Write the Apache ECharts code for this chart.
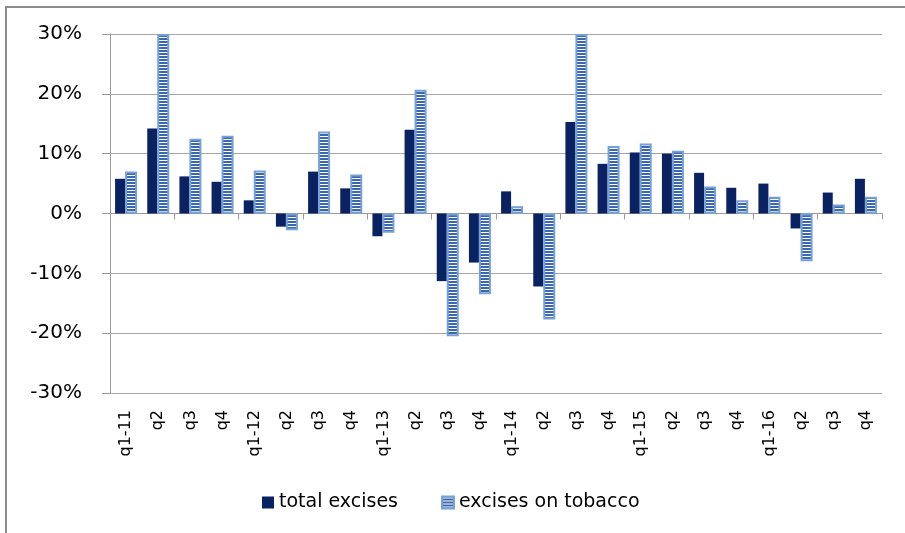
<!DOCTYPE html>
<html>
<head>
<meta charset="utf-8">
<script src="https://cdn.jsdelivr.net/npm/echarts@6/dist/echarts.min.js"></script>
<style>
  html, body { margin: 0; padding: 0; background: #fff; }
  #chart { width: 905px; height: 533px; }
</style>
</head>
<body>
<div id="chart"></div>
<script>
// quarters, 2011-2016
const quarters = ['q1-11', 'q2', 'q3', 'q4', 'q1-12', 'q2', 'q3', 'q4',
  'q1-13', 'q2', 'q3', 'q4', 'q1-14', 'q2', 'q3', 'q4',
  'q1-15', 'q2', 'q3', 'q4', 'q1-16', 'q2', 'q3', 'q4']

// y/y change, %
const totalExcises = [5.8, 14.2, 6.2, 5.3, 2.2, -2.2, 7.0, 4.2,
  -3.8, 14.0, -11.3, -8.2, 3.7, -12.2, 15.3, 8.3,
  10.2, 10.0, 6.8, 4.3, 5.0, -2.5, 3.5, 5.8]
const tobaccoExcises = [7.0, 30, 12.5, 13.0, 7.2, -2.8, 13.7, 6.5,
  -3.2, 20.7, -20.5, -13.5, 1.2, -17.7, 30, 11.3,
  11.7, 10.5, 4.5, 2.2, 2.8, -8.0, 1.5, 2.8]

const yTicks = [-30, -20, -10, 0, 10, 20, 30]

// striped fill for the tobacco bars
function stripes () {
	let c = document.createElement('canvas')
	c.width = 4
	c.height = 3
	let ctx = c.getContext('2d')
	ctx.fillStyle = '#3a68ae'
	ctx.fillRect(0, 0, 4, 3)
	ctx.fillStyle = '#ffffff'
	ctx.fillRect(0, 1, 4, 1)
	return c
}

const font = 'DejaVu Sans, Verdana, sans-serif'
const legendText = { fontFamily: font, fontSize: 19, color: '#000' }
let myChart = echarts.init(document.getElementById('chart'))

myChart.setOption({
	animation: false,
	grid: { left: 110, right: 23, top: 34, bottom: 140, containLabel: false },
	legend: [{
		top: 488,
		left: 257,
		itemWidth: 12,
		itemHeight: 12,
		icon: 'rect',
		textStyle: legendText,
		data: ['total excises']
	}, {
		top: 488,
		left: 436,
		itemWidth: 12,
		itemHeight: 12,
		icon: 'rect',
		textStyle: legendText,
		data: ['excises on tobacco']
	}],
	xAxis: [{
		type: 'category',
		data: quarters,
		axisLine: { onZero: true, lineStyle: { color: '#9a9a9a', width: 1 } },
		axisTick: { show: true, inside: false, length: 6, lineStyle: { color: '#9a9a9a' } },
		axisLabel: { show: false },
		splitLine: { show: false }
	}, {
		type: 'category',
		data: quarters,
		position: 'bottom',
		axisLine: { show: false, onZero: false },
		axisTick: { show: false },
		axisLabel: {
			rotate: 90,
			margin: 17,
			interval: 0,
			fontFamily: font,
			fontSize: 16,
			color: '#000'
		}
	}],
	yAxis: {
		type: 'value',
		min: -30,
		max: 30,
		interval: 10,
		axisLine: { show: true, lineStyle: { color: '#9a9a9a' } },
		axisTick: { show: true, length: 8, lineStyle: { color: '#9a9a9a' } },
		splitLine: { lineStyle: { color: '#a6a6a6', width: 1 } },
		axisLabel: {
			margin: 28,
			fontFamily: font,
			fontSize: 20,
			color: '#000',
			formatter: v => yTicks.includes(v) ? v + '%' : ''
		}
	},
	series: [{
		name: 'total excises',
		type: 'bar',
		xAxisIndex: 0,
		data: totalExcises,
		barWidth: 10,
		barGap: '0%',
		itemStyle: { color: '#0a2162' }
	}, {
		name: 'excises on tobacco',
		type: 'bar',
		xAxisIndex: 0,
		data: tobaccoExcises,
		barWidth: 12,
		barGap: '0%',
		itemStyle: {
			color: { image: stripes(), repeat: 'repeat' },
			borderColor: '#76a0d6',
			borderWidth: 2
		}
	}],
	graphic: [
		{ type: 'line', shape: { x1: 6, y1: 7, x2: 905, y2: 7 }, style: { stroke: '#8c8c8c', lineWidth: 2 } },
		{ type: 'line', shape: { x1: 6, y1: 6, x2: 6, y2: 533 }, style: { stroke: '#8c8c8c', lineWidth: 2 } }
	]
})
</script>
</body>
</html>
